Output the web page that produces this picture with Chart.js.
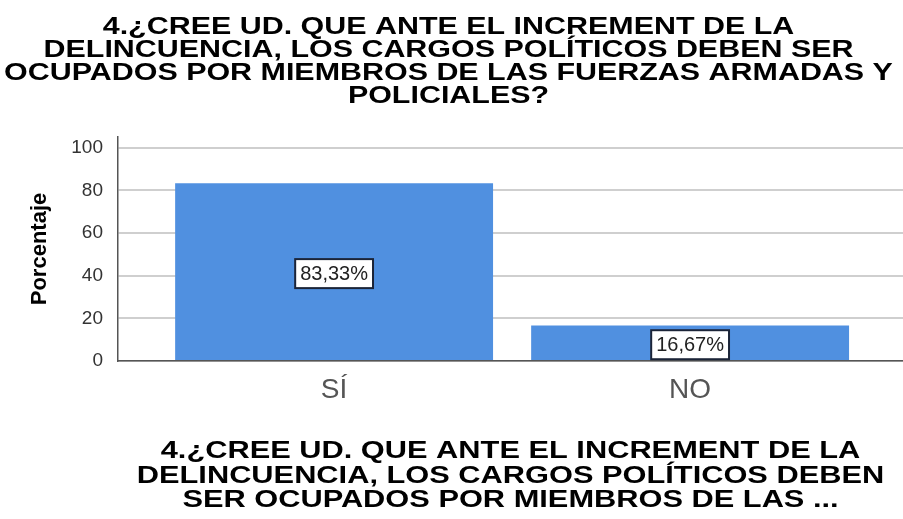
<!DOCTYPE html>
<html>
<head>
<meta charset="utf-8">
<script src="https://cdn.jsdelivr.net/npm/chart.js@4"></script>
<style>
  html, body { margin: 0; padding: 0; background: #fff; }
  #wrap { width: 903px; height: 519px; }
</style>
</head>
<body>
<div id="wrap"><canvas id="chart"></canvas></div>
<script>
const categories = ['SÍ', 'NO'];
const percentages = [83.33, 16.67];
const barLabels = ['83,33%', '16,67%'];
const yTicks = [0, 20, 40, 60, 80, 100];

const titleLines = [
  '4.¿CREE UD. QUE ANTE EL INCREMENT DE LA',
  'DELINCUENCIA, LOS CARGOS POLÍTICOS DEBEN SER',
  'OCUPADOS POR MIEMBROS DE LAS FUERZAS ARMADAS Y',
  'POLICIALES?'
];
const xTitleLines = [
  '4.¿CREE UD. QUE ANTE EL INCREMENT DE LA',
  'DELINCUENCIA, LOS CARGOS POLÍTICOS DEBEN',
  'SER OCUPADOS POR MIEMBROS DE LAS ...'
];

const font = '"Liberation Sans", Arial, sans-serif';

// the SPSS titles are stretched sideways, so they are drawn by hand
function drawLines(ctx, lines, cx, firstBase, step, sx) {
  ctx.save();
  ctx.font = 'bold 23.5px ' + font;
  ctx.fillStyle = '#000';
  ctx.textAlign = 'center';
  ctx.textBaseline = 'alphabetic';
  lines.forEach((t, i) => {
    ctx.save();
    ctx.translate(cx, firstBase + i * step);
    ctx.scale(sx, 1);
    ctx.fillText(t, 0, 0);
    ctx.restore();
  });
  ctx.restore();
}

const titles = {
  id: 'titles',
  afterDraw(chart) {
    const ctx = chart.ctx;
    const area = chart.chartArea;
    drawLines(ctx, titleLines, chart.width / 2 - 3, 34, 23, 1.295);
    drawLines(ctx, xTitleLines, (area.left + area.right) / 2, 458, 24.5, 1.31);
  }
};

// white boxes with the percentage in the middle of each bar
const boxLabels = {
  id: 'boxLabels',
  afterDatasetsDraw(chart) {
    const ctx = chart.ctx;
    const meta = chart.getDatasetMeta(0);
    ctx.save();
    ctx.font = '20px ' + font;
    ctx.textAlign = 'center';
    ctx.textBaseline = 'middle';
    meta.data.forEach((bar, i) => {
      const cx = bar.x;
      const cy = (bar.y + bar.base) / 2 + 2;
      const w = ctx.measureText(barLabels[i]).width + 10;
      const h = 29;
      ctx.fillStyle = '#fff';
      ctx.fillRect(cx - w / 2, cy - h / 2, w, h);
      ctx.strokeStyle = '#1b2438';
      ctx.lineWidth = 2;
      ctx.strokeRect(cx - w / 2, cy - h / 2, w, h);
      ctx.fillStyle = '#222';
      ctx.fillText(barLabels[i], cx, cy + 1);
    });
    ctx.restore();
  }
};

new Chart(document.getElementById('chart'), {
  type: 'bar',
  data: {
    datasets: [{
      data: categories.map((c, i) => ({ x: i, y: percentages[i] })),
      backgroundColor: '#5090e0',
      borderWidth: 0,
      barPercentage: 0.893,
      categoryPercentage: 1
    }]
  },
  plugins: [boxLabels, titles],
  options: {
    responsive: true,
    maintainAspectRatio: false,
    animation: false,
    layout: { padding: { left: 0, right: 0, top: 137, bottom: 0 } },
    plugins: {
      legend: { display: false },
      tooltip: { enabled: false },
      title: { display: false }
    },
    scales: {
      x: {
        type: 'linear',
        offset: false,
        min: -0.607,
        max: 1.598,
        afterFit: s => { s.height = 158; },
        afterBuildTicks: s => { s.ticks = categories.map((c, i) => ({ value: i })); },
        grid: { display: false, drawTicks: false },
        border: { color: '#555', width: 1.5 },
        ticks: {
          callback: v => categories[v],
          color: '#555',
          font: { family: font, size: 28 },
          padding: 12,
          maxRotation: 0
        }
      },
      y: {
        min: 0,
        max: 105,
        afterFit: s => { s.width = 118; },
        afterBuildTicks: s => { s.ticks = yTicks.map(v => ({ value: v })); },
        grid: { color: '#cfcfcf', lineWidth: 2, drawTicks: false },
        border: { color: '#555', width: 1.5 },
        ticks: {
          color: '#333',
          font: { family: font, size: 19 },
          padding: 15
        },
        title: {
          display: true,
          text: 'Porcentaje',
          color: '#000',
          font: { family: font, size: 22, weight: 'bold' },
          padding: { top: 27, bottom: 0 }
        }
      }
    }
  }
});
</script>
</body>
</html>
